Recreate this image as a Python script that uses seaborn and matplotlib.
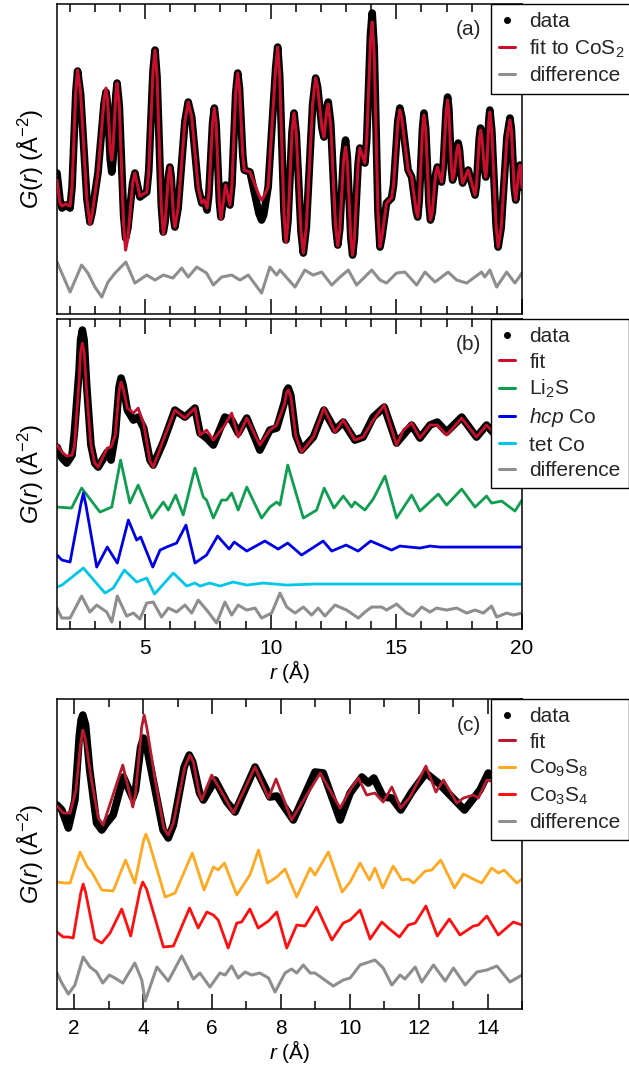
import numpy as np
import matplotlib
matplotlib.use("Agg")
import matplotlib.pyplot as plt
import seaborn as sns
from matplotlib.lines import Line2D
from matplotlib.ticker import MultipleLocator

# ---------------- panel (a): CoS2 ----------------
r_a = [1.50, 1.62, 1.70, 1.85, 2.02, 2.10, 2.25, 2.32, 2.44, 2.69,
       2.81, 2.90, 3.13, 3.37, 3.45, 3.51, 3.62, 3.68, 3.73, 3.84,
       3.89, 3.98, 4.15, 4.23, 4.32, 4.51, 4.60, 4.80, 5.07, 5.15,
       5.32, 5.40, 5.48, 5.65, 5.73, 5.80, 5.93, 5.99, 6.04, 6.14,
       6.19, 6.32, 6.59, 6.72, 6.86, 7.12, 7.26, 7.36, 7.47, 7.54,
       7.69, 7.76, 7.83, 7.96, 8.02, 8.21, 8.38, 8.46, 8.61, 8.69,
       8.76, 8.89, 8.95, 9.18, 9.53, 9.64, 9.72, 9.90, 10.20, 10.28,
       10.36, 10.53, 10.61, 10.69, 10.85, 10.93, 11.02, 11.21, 11.30, 11.42,
       11.67, 11.79, 11.87, 12.04, 12.12, 12.24, 12.29, 12.39, 12.58, 12.67,
       12.75, 12.90, 12.98, 13.05, 13.19, 13.26, 13.33, 13.48, 13.55, 13.75,
       13.82, 13.97, 14.04, 14.12, 14.27, 14.35, 14.42, 14.61, 14.81, 14.89,
       15.06, 15.14, 15.22, 15.47, 15.61, 15.79, 15.85, 15.91, 16.04, 16.10,
       16.17, 16.30, 16.36, 16.43, 16.56, 16.63, 16.80, 16.86, 16.98, 17.04,
       17.09, 17.19, 17.24, 17.30, 17.41, 17.46, 17.51, 17.60, 17.64, 17.86,
       18.13, 18.19, 18.30, 18.35, 18.40, 18.51, 18.56, 18.60, 18.68, 18.72,
       18.80, 18.97, 19.05, 19.17, 19.40, 19.52, 19.58, 19.69, 19.75, 19.88,
       19.92, 20.00]
data_a = [2.7, 0.0, -0.8, -0.5, -0.8, 1.3, 10.8, 12.9, 10.6, 0.1,
          -2.2, -1.2, 2.7, 9.6, 10.8, 9.6, 4.0, 2.8, 4.1, 10.4,
          11.7, 9.4, -1.5, -3.8, -2.8, 1.7, 2.7, 0.3, 0.8, 2.9,
          12.9, 15.0, 12.3, -0.5, -3.2, -2.2, 2.3, 3.3, 2.4, -1.8,
          -2.7, -0.8, 7.9, 9.8, 8.3, 1.2, -0.3, 0.0, -1.0, 0.5,
          7.7, 9.2, 7.6, -0.1, -1.7, 1.5, -0.5, 1.5, 10.7, 12.7,
          11.2, 4.5, 3.0, 2.8, -1.3, -2.0, -1.5, 1.3, 13.2, 15.3,
          12.4, -1.1, -4.0, -2.1, 6.8, 8.7, 6.6, -3.2, -5.3, -2.7,
          9.6, 12.2, 11.3, 7.2, 6.3, 9.3, 9.8, 7.7, -2.4, -4.5,
          -2.9, 4.4, 6.0, 4.3, -3.8, -5.5, -3.9, 3.6, 5.2, 3.7,
          5.9, 16.5, 18.7, 15.2, -1.2, -4.7, -3.8, -0.3, 0.2, 1.5,
          7.9, 9.2, 8.3, 3.0, 2.3, -1.1, -1.7, -0.1, 7.1, 8.7,
          7.1, -0.4, -2.0, -1.2, 2.5, 3.3, 1.8, 3.1, 9.0, 10.3,
          9.1, 3.2, 2.0, 2.6, 5.1, 5.7, 5.1, 2.3, 1.7, 3.0,
          0.5, 1.5, 6.2, 7.2, 6.5, 3.0, 2.3, 3.3, 8.0, 9.0,
          6.9, -2.6, -4.7, -2.8, 6.3, 8.2, 7.0, 1.2, 0.0, 3.0,
          3.5, 1.3]
fit_a = [2.0, -0.3, -0.6, -0.4, -0.6, 1.4, 10.9, 13.0, 10.7, 0.0,
         -2.4, -1.4, 2.7, 10.0, 11.2, 10.0, 5.0, 4.0, 5.2, 10.5,
         11.7, 9.4, -2.5, -5.0, -3.8, 1.7, 2.7, 0.4, 0.8, 2.9,
         12.9, 15.0, 12.3, -0.7, -3.4, -2.3, 2.3, 3.3, 2.4, -1.8,
         -2.7, -0.8, 7.9, 9.8, 8.3, 1.2, -0.3, 0.0, -0.8, 0.6,
         7.7, 9.2, 7.6, -0.3, -1.9, 1.5, -0.5, 1.5, 10.7, 12.7,
         11.2, 4.5, 3.0, 2.8, 0.5, 0.0, 0.3, 1.3, 13.2, 15.3,
         12.4, -1.3, -4.2, -2.3, 6.8, 8.7, 6.6, -3.2, -5.3, -2.7,
         9.6, 12.2, 11.3, 7.2, 6.3, 9.1, 9.6, 7.5, -2.5, -4.6,
         -3.0, 3.9, 5.3, 3.8, -3.8, -5.5, -3.9, 3.6, 5.2, 3.7,
         5.9, 15.8, 17.8, 14.5, -1.2, -4.7, -3.8, -0.3, 0.2, 1.5,
         7.7, 9.0, 8.1, 3.0, 2.3, -1.1, -1.7, -0.1, 7.0, 8.5,
         7.0, -0.4, -2.0, -1.2, 2.5, 3.3, 1.8, 3.1, 8.8, 10.0,
         8.8, 3.2, 2.0, 2.6, 5.0, 5.5, 5.0, 2.3, 1.7, 3.0,
         0.5, 1.5, 6.0, 7.0, 6.3, 3.0, 2.3, 3.3, 7.8, 8.8,
         6.8, -2.6, -4.7, -2.8, 6.2, 8.0, 6.9, 1.2, 0.0, 3.0,
         3.5, 1.3]
r_diff_a = [1.50, 2.02, 2.48, 2.73, 3.01, 3.28, 3.53, 3.81, 4.24, 4.60, 5.07, 5.40, 5.73, 6.11, 6.46,
            6.72, 7.06, 7.45, 7.72, 8.05, 8.45, 8.78, 9.11, 9.64, 9.97, 10.24, 10.37, 10.97, 11.36,
            11.69, 12.03, 12.43, 12.76, 13.09, 13.42, 14.02, 14.35, 14.61, 15.01, 15.34, 15.81,
            16.14, 16.54, 17.06, 17.40, 17.80, 18.39, 18.52, 18.72, 18.99, 19.39, 19.72, 20.00]
diff_a = [1.4, -1.6, 1.1, 0.3, -1.1, -2.1, -0.6, 0.3, 1.4, -0.7, 0.1, -0.4, 0.1, -0.2, 0.8,
          -0.1, 0.9, 0.3, -0.9, -0.1, 0.1, -0.4, 0.1, -1.7, 0.9, 0.1, 0.6, -1.1, 0.6,
          0.1, 0.4, -0.9, -0.1, 0.6, -0.9, 0.6, -0.4, -0.7, 0.3, 0.4, -0.9,
          0.4, -0.6, 0.4, -0.4, -0.7, 0.4, -0.1, 0.6, -1.1, 0.4, -0.7, 0.3]
offset_diff_a = -7.6

# ---------------- panel (b): Li2S / hcp Co / tet Co ----------------
r_b = [1.50, 1.70, 1.89, 2.10, 2.20, 2.38, 2.44, 2.51, 2.58, 2.68,
       2.85, 3.00, 3.14, 3.50, 3.65, 3.82, 3.97, 4.05, 4.13, 4.30,
       4.54, 4.73, 4.95, 5.20, 5.33, 5.73, 6.19, 6.59, 6.99, 7.19,
       7.45, 7.72, 8.18, 8.45, 8.71, 9.05, 9.57, 9.97, 10.24, 10.55,
       10.63, 10.70, 10.80, 11.00, 11.23, 11.70, 12.12, 12.56, 12.89, 13.35,
       13.68, 14.08, 14.52, 15.01, 15.28, 15.61, 15.94, 16.34, 16.63, 17.00,
       17.60, 18.19, 18.59, 19.12, 20.00]
data_b = [0.3, -0.8, -1.3, -0.5, 2.0, 8.0, 11.0, 12.0, 11.0, 6.5,
          0.5, -1.3, -1.7, -0.2, -1.0, 1.5, 6.3, 7.2, 6.5, 4.0,
          3.0, 3.3, 2.2, -1.0, -1.5, 0.8, 4.0, 3.3, 4.2, 1.7,
          1.2, 0.5, 3.3, 3.0, 1.7, 3.2, 0.0, 2.0, 2.2, 4.8,
          5.9, 6.2, 5.5, 1.5, 0.0, 1.3, 4.0, 2.0, 2.8, 1.0,
          1.3, 3.3, 4.3, 0.7, 1.5, 2.5, 1.2, 2.5, 2.8, 1.8,
          3.3, 1.3, 2.5, 1.0, 1.8]
fit_b = [0.5, -0.2, -0.6, -0.5, 0.5, 7.0, 9.8, 10.7, 9.8, 5.8,
         0.5, -1.3, -1.7, 0.2, 0.3, 1.5, 5.9, 6.8, 6.2, 4.2,
         3.7, 4.2, 2.6, -1.1, -1.7, 1.0, 4.0, 3.2, 4.2, 1.5,
         2.0, 1.0, 2.5, 3.7, 1.3, 3.2, 0.5, 2.0, 2.5, 4.6,
         5.7, 6.0, 5.4, 1.4, -0.2, 1.3, 4.2, 1.8, 3.0, 1.0,
         1.3, 3.0, 4.5, 0.5, 2.0, 2.7, 1.2, 2.5, 2.5, 1.5,
         3.2, 1.3, 2.5, 1.0, 1.8]
r_li2s = [1.50, 2.08, 2.48, 3.21, 3.68, 4.03, 4.40, 4.73, 5.27, 5.73, 5.93, 6.22, 6.52, 6.99, 7.32,
          7.45, 7.72, 8.05, 8.25, 8.45, 8.71, 9.05, 9.64, 9.97, 10.24, 10.37, 10.68, 11.30, 11.83,
          12.13, 12.52, 12.89, 13.22, 13.35, 13.75, 14.08, 14.55, 15.01, 15.61, 15.94, 16.67, 17.00,
          17.60, 18.13, 18.59, 18.79, 19.19, 19.72, 20.00]
li2s = [-0.2, -0.3, 1.7, -0.7, -0.2, 4.5, 0.2, 2.0, -1.3, 0.3, -0.5, 1.0, -1.0, 3.7, 0.8,
        0.5, -1.3, 0.5, 0.5, 1.2, -0.5, 1.8, -1.3, -0.2, 0.3, 0.0, 4.0, -1.3, -0.5,
        1.7, -0.3, 0.9, -0.2, 0.3, -0.5, 0.6, 2.9, -1.3, 1.0, -0.6, 1.1, 0.0,
        1.6, -0.2, 0.9, 0.2, 0.4, -0.6, 0.5]
r_hcp = [1.50, 1.70, 2.02, 2.45, 2.55, 2.65, 3.08, 3.50, 3.90, 4.34, 4.67, 4.83, 5.31, 5.60, 5.86,
         6.26, 6.63, 6.99, 7.45, 7.89, 8.35, 8.55, 9.05, 9.77, 10.30, 10.68, 11.23, 12.09, 12.43,
         13.00, 13.48, 13.98, 14.81, 15.14, 15.94, 16.34, 16.73, 20.00]
hcp = [-0.8, -1.3, -1.5, 4.3, 5.4, 4.2, -2.0, 0.0, -1.6, 2.7, 0.7, 1.0, -2.0, -0.3, 0.0,
       0.4, 2.2, -1.6, -0.8, 1.1, -0.2, 0.5, -0.4, 0.6, -0.2, 0.4, -0.8, 0.6, -0.4,
       0.2, -0.4, 0.6, -0.3, 0.1, -0.1, 0.1, 0.0, 0.0]
r_tet = [1.50, 1.70, 2.55, 3.41, 3.74, 4.18, 4.67, 5.07, 5.38, 6.13, 6.66, 6.99, 7.19, 7.58, 7.98,
         8.51, 9.05, 9.71, 10.64, 11.70, 20.00]
tet = [-0.3, -0.1, 1.6, -0.9, -0.4, 1.4, 0.2, 0.6, -1.0, 1.1, -0.2, 0.1, -0.2, 0.1, -0.2,
       0.2, -0.1, 0.1, -0.1, 0.0, 0.0]
r_diff_b = [1.50, 1.69, 2.02, 2.48, 2.81, 3.08, 3.48, 3.68, 3.90, 4.27, 4.54, 4.80, 5.07, 5.33, 5.66,
            5.93, 6.26, 6.59, 6.86, 7.12, 7.52, 7.85, 8.18, 8.45, 8.71, 9.05, 9.38, 9.64, 10.04,
            10.37, 10.64, 10.97, 11.30, 11.63, 11.89, 12.16, 12.56, 13.02, 13.49, 13.75, 14.02,
            14.42, 14.61, 15.01, 15.41, 15.67, 16.01, 16.34, 16.60, 17.00, 17.40, 17.80, 18.13,
            18.46, 18.79, 18.99, 19.39, 19.66, 20.00]
diff_b = [0.2, -0.8, -0.8, 1.4, -0.2, 0.5, -0.2, -1.2, 1.4, -0.6, -0.3, -0.9, 0.7, 0.8, -0.7,
          0.2, -0.2, 0.5, -0.3, 1.0, -0.2, -1.3, 0.8, -0.5, 0.5, 0.0, 0.2, -0.8, -0.3,
          1.7, 0.3, -0.3, 0.3, -0.5, 0.2, -0.6, 0.5, 0.0, -0.8, -0.2, 0.3,
          0.3, 0.0, 0.6, -0.3, -0.6, 0.3, -0.2, 0.2, 0.0, 0.2, -0.3, 0.0,
          -0.3, 0.4, -0.7, -0.3, -0.5, -0.3]
offset_li2s, offset_hcp, offset_tet, offset_diff_b = -5.5, -9.7, -13.4, -16.0

# ---------------- panel (c): Co9S8 / Co3S4 ----------------
r_c = [1.50, 1.64, 1.83, 2.02, 2.15, 2.20, 2.25, 2.33, 2.45, 2.65,
       2.80, 2.94, 3.13, 3.43, 3.70, 3.78, 3.93, 4.01, 4.12, 4.35,
       4.58, 4.73, 4.88, 5.19, 5.34, 5.44, 5.64, 5.75, 6.09, 6.43,
       6.67, 7.25, 7.68, 7.88, 8.36, 8.99, 9.23, 9.72, 10.01, 10.35,
       10.54, 10.70, 10.97, 11.22, 11.48, 11.80, 12.21, 12.57, 13.33, 13.78,
       14.02, 14.50, 15.00]
data_c = [-0.5, -1.0, -2.8, 0.0, 6.5, 8.0, 8.5, 7.5, 3.0, -2.3,
          -3.0, -2.3, -1.5, 2.3, 0.2, 1.0, 5.3, 6.2, 5.0, 1.0,
          -3.0, -3.8, -2.5, 3.3, 4.5, 3.8, 0.7, 0.0, 2.0, -0.2,
          -1.2, 3.3, 0.3, 0.4, -2.0, 2.8, 2.7, -2.0, 0.7, 2.3,
          1.7, 2.2, 0.3, 0.2, -1.0, 0.8, 2.7, 1.7, -1.0, 1.0,
          2.7, 1.5, 1.0]
r_fit_c = [1.50, 1.68, 1.88, 2.05, 2.18, 2.25, 2.33, 2.50, 2.70, 2.84,
           3.41, 3.70, 3.78, 3.96, 4.03, 4.11, 4.35, 4.60, 4.73, 4.88,
           5.21, 5.36, 5.46, 5.62, 5.70, 5.99, 6.33, 6.62, 7.25, 7.64,
           7.86, 8.31, 9.14, 9.72, 10.01, 10.25, 10.49, 10.73, 10.97, 11.22,
           11.48, 11.75, 12.21, 12.50, 12.72, 13.11, 13.30, 13.59, 13.73, 13.98,
           14.50, 15.00]
fit_c = [-0.6, -1.3, -1.3, 1.0, 5.5, 7.0, 6.0, 2.0, -1.8, -2.5,
         3.5, -0.7, 0.6, 7.3, 8.5, 7.2, 2.0, -2.8, -3.5, -2.3,
         3.3, 4.5, 3.8, 0.8, 0.0, 2.5, 0.5, -1.3, 3.3, 0.2,
         2.1, -2.0, 2.7, -0.8, 1.0, 2.2, 0.5, 0.7, -0.2, 1.3,
         -0.8, 0.3, 3.4, 0.8, 2.0, -0.3, 0.2, 0.5, 0.2, 2.0,
         1.5, 1.0]
r_co9s8 = [1.50, 1.73, 1.88, 2.17, 2.38, 2.51, 2.80, 3.13, 3.49, 3.76, 4.01, 4.08, 4.17, 4.64, 4.93,
           5.43, 5.77, 6.04, 6.18, 6.36, 6.72, 7.10, 7.35, 7.61, 7.88, 8.12, 8.46, 8.85, 8.99,
           9.38, 9.78, 10.01, 10.30, 10.57, 10.73, 10.96, 11.26, 11.51, 11.70, 11.85, 12.19,
           12.38, 12.64, 13.04, 13.30, 13.64, 13.83, 14.12, 14.31, 14.48, 14.85, 15.00]
co9s8 = [-0.4, -0.5, -0.5, 2.6, 1.1, 0.6, -1.2, -1.3, 1.8, -0.5, 3.7, 4.4, 3.6, -1.9, -1.5,
         2.5, -1.2, 1.1, 0.8, 1.5, -1.7, 0.3, 2.8, -0.5, 0.1, 0.9, -1.9, 1.0, 0.3,
         2.6, -1.4, -0.4, 1.5, -0.2, 1.0, -1.0, 1.2, -0.2, -0.1, -0.5, 0.7,
         0.8, 1.8, -1.0, 0.4, -0.2, -0.5, 1.0, 0.5, 0.8, -0.5, -0.1]
r_co3s4 = [1.50, 1.68, 1.83, 1.97, 2.19, 2.26, 2.33, 2.60, 2.80, 3.04, 3.38, 3.64, 3.91, 3.99, 4.10,
           4.59, 4.88, 5.35, 5.60, 5.85, 6.04, 6.18, 6.47, 6.72, 6.86, 7.10, 7.34, 7.64, 7.88,
           8.17, 8.46, 8.70, 9.04, 9.48, 9.81, 10.01, 10.30, 10.59, 10.93, 11.12, 11.44, 11.70,
           11.90, 12.21, 12.54, 12.89, 13.20, 13.59, 13.73, 13.98, 14.31, 14.75, 15.00]
co3s4 = [-0.7, -1.2, -1.2, -1.3, 3.2, 4.1, 3.3, -1.4, -1.8, -0.8, 1.6, -1.1, 3.5, 4.3, 3.6,
         -2.2, -2.1, 1.7, -0.3, 1.3, 1.0, 0.5, -2.3, 0.2, 0.3, 1.6, -0.3, 0.4, 1.3,
         -2.3, 0.0, -0.1, 1.8, -1.5, 0.2, 0.5, 1.5, -1.4, 0.3, -0.3, -1.2, 0.0,
         0.2, 1.9, -1.1, 0.6, -1.0, -0.1, 0.0, 0.9, -1.0, 0.3, 0.0]
r_diff_c = [1.50, 1.64, 1.83, 2.02, 2.26, 2.46, 2.65, 2.83, 3.02, 3.18, 3.41, 3.76, 3.96, 4.06, 4.40,
            4.73, 5.12, 5.46, 5.65, 5.94, 6.23, 6.38, 6.57, 6.76, 6.96, 7.15, 7.39, 7.64, 7.83,
            8.12, 8.31, 8.46, 8.65, 8.85, 8.99, 9.52, 9.81, 10.01, 10.30, 10.73, 10.97, 11.22,
            11.46, 11.60, 11.90, 12.09, 12.43, 12.77, 13.01, 13.35, 13.69, 13.98, 14.27, 14.65, 15.00]
diff_c = [0.2, -0.8, -1.9, -1.0, 1.8, 0.8, 0.3, -0.8, 0.0, -0.3, -0.8, 1.2, -0.5, -2.6, 0.8,
          -0.6, 1.9, -0.4, 0.2, -1.2, 0.2, 0.0, 0.9, -0.3, 0.3, 0.0, 0.2, -0.3, -1.7,
          0.2, 0.6, 0.2, 1.0, 0.2, 0.2, -1.1, -0.5, -0.3, 1.0, 1.5, 0.7, -1.0,
          0.0, -0.4, 0.8, -0.7, 1.0, -0.6, 0.7, -1.0, 0.3, 0.5, 0.9, -0.7, 0.0]
offset_co9s8, offset_co3s4, offset_diff_c = -7.8, -12.5, -17.5

# ---------------- styling ----------------
sns.set_theme(style="white")
plt.rcParams["font.family"] = ["Liberation Sans", "DejaVu Sans"]
plt.rcParams["mathtext.fontset"] = "custom"
plt.rcParams["mathtext.rm"] = "Liberation Sans"
plt.rcParams["mathtext.it"] = "Liberation Sans:italic"
plt.rcParams["mathtext.bf"] = "Liberation Sans:bold"

FS = 15
C_DATA = "black"
C_FIT = "#c8102e"
C_FIT_C = "#b81b2e"
C_DIFF = "#8e8e8e"
C_LI2S = "#0f9e50"
C_HCP = "#0000e8"
C_TET = "#00c6ea"
C_CO9 = "#ffa820"
C_CO3 = "#ff1010"

fig = plt.figure(figsize=(6.29, 10.70), dpi=100)
ax_a = fig.add_axes([0.0906, 0.7065, 0.7393, 0.2897])
ax_b = fig.add_axes([0.0906, 0.4121, 0.7393, 0.2897])
ax_c = fig.add_axes([0.0906, 0.0570, 0.7393, 0.2897])


def curve(ax, r, g, color, lw, offset=0.0, z=2):
    sns.lineplot(x=np.asarray(r, float), y=np.asarray(g, float) + offset, ax=ax,
                 color=color, linewidth=lw, errorbar=None, legend=False, zorder=z,
                 solid_joinstyle="round", solid_capstyle="round")


def style(ax, xmax, major, ylim, show_labels):
    ax.set_xlim(1.5, xmax)
    ax.set_ylim(*ylim)
    ax.xaxis.set_major_locator(MultipleLocator(major))
    ax.xaxis.set_minor_locator(MultipleLocator(1))
    ax.tick_params(axis="x", which="both", direction="in", top=True, bottom=True,
                   labelsize=FS, pad=7, width=1.1, color="black", labelcolor="black",
                   labelbottom=show_labels)
    ax.tick_params(axis="x", which="major", length=11)
    ax.tick_params(axis="x", which="minor", length=5.5)
    ax.set_yticks([])
    for s in ax.spines.values():
        s.set_color("black")
        s.set_linewidth(1.1)
    ax.set_ylabel(r"$G(r)$ (Å$^{-2}$)", fontsize=17, labelpad=8, color="black")
    if show_labels:
        ax.set_xlabel(r"$r$ (Å)", fontsize=FS, labelpad=0, color="black")
    else:
        ax.set_xlabel("")


def legend(ax, entries):
    handles, labels = [], []
    for lab, col in entries:
        if col is None:
            handles.append(Line2D([], [], color="black", marker="o", markersize=4, linestyle="none"))
        else:
            handles.append(Line2D([], [], color=col, lw=2.2))
        labels.append(lab)
    lg = ax.legend(handles, labels, loc="upper left", bbox_to_anchor=(0.933, 1.0),
                   borderaxespad=0, frameon=True, fancybox=False, framealpha=1,
                   edgecolor="black", fontsize=FS, handlelength=0.75, handletextpad=0.7,
                   labelspacing=0.3, borderpad=0.4)
    lg.get_frame().set_linewidth(1.0)
    lg.set_zorder(10)


# panel (a)
curve(ax_a, r_a, data_a, C_DATA, 5.5)
curve(ax_a, r_a, fit_a, C_FIT, 2.2, z=3)
curve(ax_a, r_diff_a, diff_a, C_DIFF, 2.2, offset_diff_a)
style(ax_a, 20, 5, (-11.4, 19.6), False)
legend(ax_a, [("data", None), ("fit to CoS$_2$", C_FIT), ("difference", C_DIFF)])
ax_a.text(0.912, 0.919, "(a)", transform=ax_a.transAxes, ha="right", va="center", fontsize=FS)

# panel (b)
curve(ax_b, r_b, data_b, C_DATA, 5.5)
curve(ax_b, r_b, fit_b, C_FIT, 2.0, z=3)
curve(ax_b, r_li2s, li2s, C_LI2S, 2.0, offset_li2s)
curve(ax_b, r_hcp, hcp, C_HCP, 2.0, offset_hcp)
curve(ax_b, r_tet, tet, C_TET, 2.0, offset_tet)
curve(ax_b, r_diff_b, diff_b, C_DIFF, 2.2, offset_diff_b)
style(ax_b, 20, 5, (-17.9, 13.1), True)
legend(ax_b, [("data", None), ("fit", C_FIT), ("Li$_2$S", C_LI2S), ("$hcp$ Co", C_HCP),
              ("tet Co", C_TET), ("difference", C_DIFF)])
ax_b.text(0.912, 0.919, "(b)", transform=ax_b.transAxes, ha="right", va="center", fontsize=FS)

# panel (c)
curve(ax_c, r_c, data_c, C_DATA, 5.5)
curve(ax_c, r_fit_c, fit_c, C_FIT_C, 2.0, z=3)
curve(ax_c, r_co9s8, co9s8, C_CO9, 2.0, offset_co9s8)
curve(ax_c, r_co3s4, co3s4, C_CO3, 2.0, offset_co3s4)
curve(ax_c, r_diff_c, diff_c, C_DIFF, 2.2, offset_diff_c)
style(ax_c, 15, 2, (-20.9, 10.1), True)
legend(ax_c, [("data", None), ("fit", C_FIT_C), ("Co$_9$S$_8$", C_CO9), ("Co$_3$S$_4$", C_CO3),
              ("difference", C_DIFF)])
ax_c.text(0.912, 0.913, "(c)", transform=ax_c.transAxes, ha="right", va="center", fontsize=FS)

fig.savefig("out.png", dpi=100)
